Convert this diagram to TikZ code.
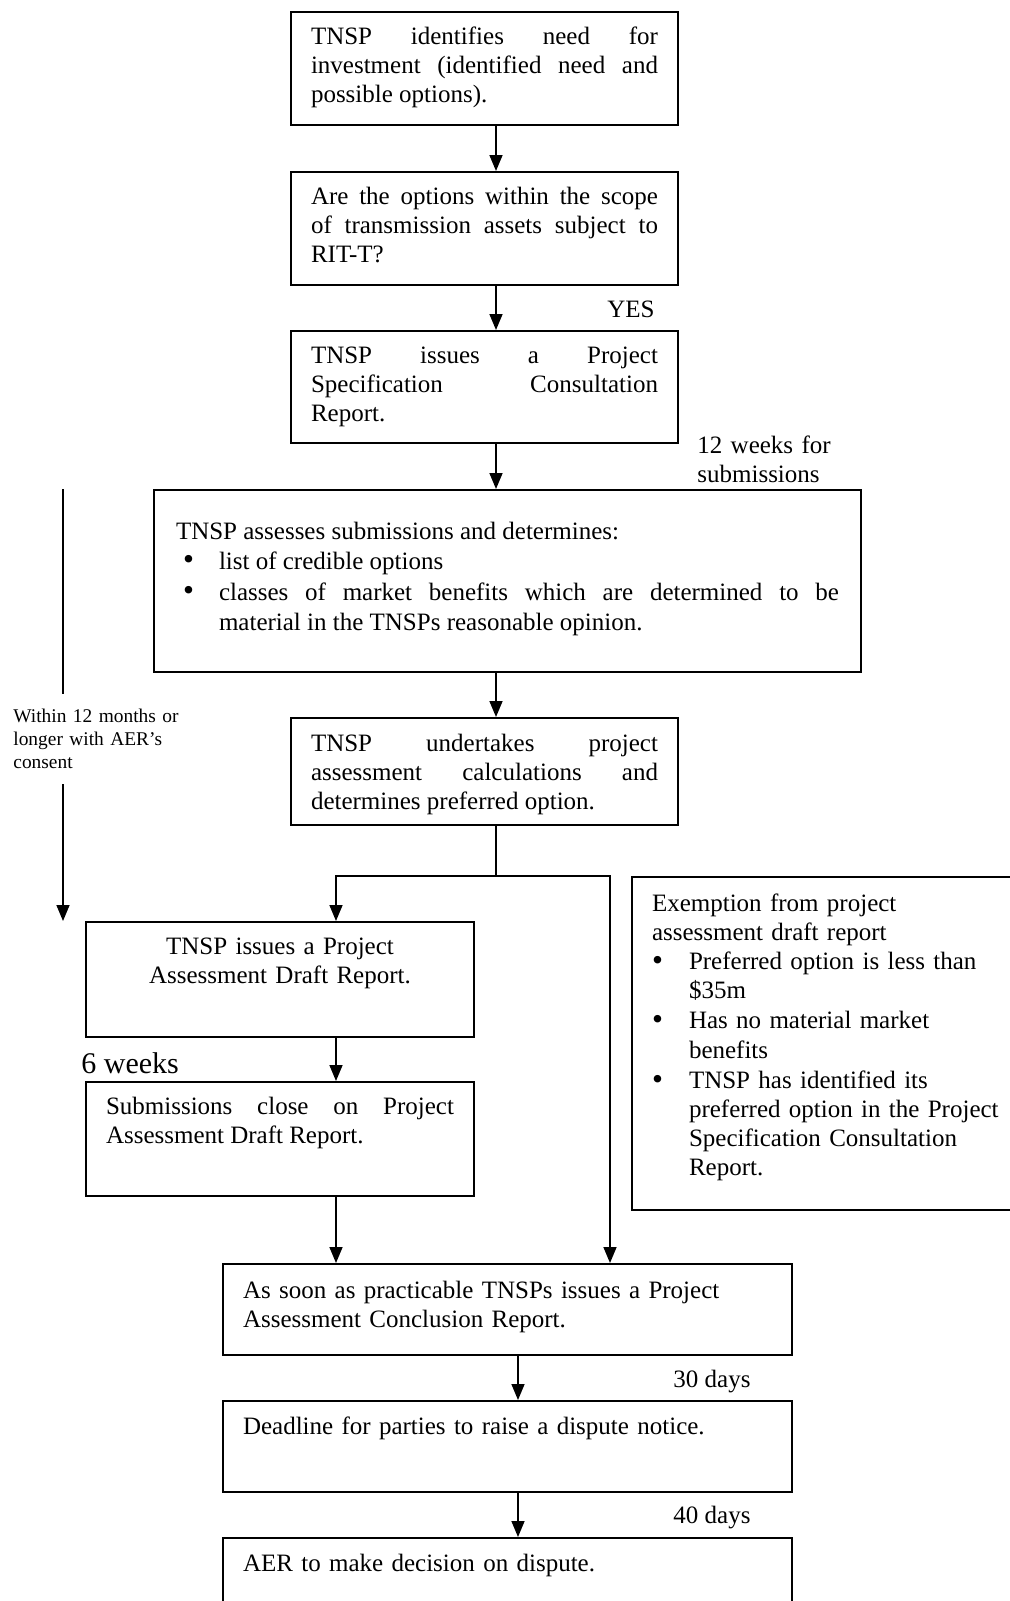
\documentclass[tikz,border=0pt]{standalone}
\usepackage{fontspec}
\setmainfont{Liberation Serif}
\usetikzlibrary{arrows.meta}
\tolerance=10000
\hbadness=10000
\hyphenpenalty=10000

\newcommand{\bigbullet}{\raisebox{-0.4pt}{\scalebox{1.25}{\textbullet}}}
\newenvironment{bulletlist}[2]{%
  \begin{list}{\bigbullet}{%
    \setlength{\leftmargin}{#1}\setlength{\labelsep}{#2}%
    \setlength{\labelwidth}{\dimexpr#1-#2\relax}%
    \setlength{\topsep}{0pt}\setlength{\partopsep}{0pt}%
    \setlength{\parsep}{0pt}\setlength{\itemsep}{0.5pt}}}%
  {\end{list}}

\begin{document}
\begin{tikzpicture}[x=0.5pt, y=-0.5pt,
    font=\fontsize{12.5}{14.6}\selectfont,
    stage/.style={draw, line width=1pt, anchor=north west, inner xsep=10pt,
      inner ysep=0pt, text height=16pt, align=justify},
    note/.style={anchor=base west, inner sep=0pt},
    link/.style={line width=0.8pt},
    arr/.style={link, -{Triangle[length=8pt, width=6.5pt]}}]

    \useasboundingbox (0,0) rectangle (1010,1601);

    % arrow columns
    \coordinate (mx) at (496, 0);
    \coordinate (dx) at (336, 0);
    \coordinate (ex) at (610, 0);
    \coordinate (cx) at (518, 0);
    \coordinate (lx) at (63, 0);
    \coordinate (split) at (496, 876);

    \node[stage, text width=173.5pt, text depth=40.5pt] (need) at (290, 11)
        {TNSP identifies need for\linebreak investment (identified need and\linebreak possible options).};
    \node[stage, text width=173.5pt, text depth=40.5pt] (scope) at (290, 171)
        {Are the options within the scope\linebreak of transmission assets subject to\linebreak RIT-T?};
    \node[stage, text width=173.5pt, text depth=40pt] (pscr) at (290, 330)
        {TNSP issues a Project\linebreak Specification Consultation\linebreak Report.};
    \node[stage, text width=331.5pt, inner xsep=11pt, text height=24.5pt, text depth=66.5pt,
        font=\fontsize{12.5}{15}\selectfont] (assess) at (153, 489)
        {TNSP assesses submissions and determines:
        \begin{bulletlist}{21.5pt}{12.5pt}
        \item list of credible options
        \item classes of market benefits which are determined to be\linebreak material in the TNSPs reasonable opinion.
        \end{bulletlist}};
    \node[stage, text width=173.5pt, text height=16.5pt, text depth=37pt] (calc) at (290, 717)
        {TNSP undertakes project\linebreak assessment calculations and\linebreak determines preferred option.};
    \node[stage, text width=174pt, text depth=41.5pt, align=center] (padr) at (85, 921)
        {TNSP issues a Project\\Assessment Draft Report.};
    \node[stage, text width=174pt, text depth=41pt] (close) at (85, 1081)
        {Submissions close on Project\linebreak Assessment Draft Report.};
    \node[stage, align=left, text width=179.5pt, text height=17pt, text depth=149.5pt] (exempt) at (631, 876)
        {Exemption from project\newline assessment draft report
        \begin{bulletlist}{18.5pt}{13pt}
        \item Preferred option is less than\newline \$35m
        \item Has no material market\newline benefits
        \item TNSP has identified its\newline preferred option in the Project\newline Specification Consultation\newline Report.
        \end{bulletlist}};
    \node[stage, align=left, text width=264.5pt, text height=17pt, text depth=28.5pt] (pacr) at (222, 1263)
        {As soon as practicable TNSPs issues a Project\newline Assessment Conclusion Report.};
    \node[stage, align=left, text width=264.5pt, text height=16.5pt, text depth=29pt] (dispute) at (222, 1400)
        {Deadline for parties to raise a dispute notice.};
    \node[stage, align=left, text width=264.5pt, text height=16.5pt, text depth=40pt] (decision) at (222, 1537)
        {AER to make decision on dispute.};

    % timing labels
    \node[note] (yes) at (607, 317) {YES};
    \node[note, align=left, text width=80pt] (twelve) at (697, 453) {12 weeks for\newline submissions};
    \node[note, font=\fontsize{15}{18}\selectfont] (sixwk) at (81, 1073) {6 weeks};
    \node[note] (thirty) at (673, 1387) {30 days};
    \node[note] (forty) at (673, 1523) {40 days};
    \node[anchor=north west, inner xsep=0pt, inner ysep=7.5pt, align=left, text width=90pt,
        font=\fontsize{9.7}{11.5}\selectfont] (within) at (13, 694)
        {Within 12 months or\newline longer with AER’s\newline consent};

    \draw[arr] (need.south -| mx) -- (scope.north -| mx);
    \draw[arr] (scope.south -| mx) -- (pscr.north -| mx);
    \draw[arr] (pscr.south -| mx) -- (assess.north -| mx);
    \draw[arr] (assess.south -| mx) -- (calc.north -| mx);
    \draw[link] (calc.south -| mx) -- (split);
    \draw[arr] (split) -| (padr.north -| dx);
    \draw[arr] (split) -| (pacr.north -| ex);
    \draw[arr] (padr.south -| dx) -- (close.north -| dx);
    \draw[arr] (close.south -| dx) -- (pacr.north -| dx);
    \draw[arr] (pacr.south -| cx) -- (dispute.north -| cx);
    \draw[arr] (dispute.south -| cx) -- (decision.north -| cx);
    \draw[link] (assess.north -| lx) -- (within.north -| lx);
    \draw[arr] (within.south -| lx) -- (padr.north -| lx);
\end{tikzpicture}
\end{document}
